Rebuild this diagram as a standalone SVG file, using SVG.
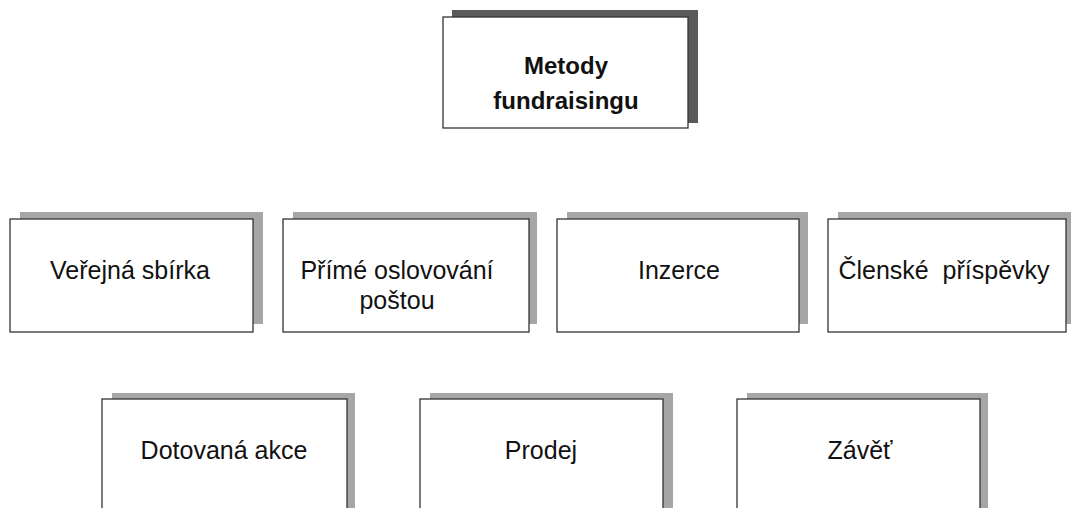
<svg xmlns="http://www.w3.org/2000/svg" width="1072" height="508" viewBox="0 0 1072 508">
  <style>
    .shadow { fill: #a6a6a6; }
    .shadow-dark { fill: #5a5a5a; }
    .box { fill: #ffffff; stroke: #333333; stroke-width: 1.3; }
    .lbl { font-family: "Liberation Sans", Arial, sans-serif; font-size: 25px; fill: #111111; text-anchor: middle; }
    .title { font-family: "Liberation Sans", Arial, sans-serif; font-size: 24px; font-weight: bold; fill: #111111; text-anchor: middle; }
  </style>
  <rect width="1072" height="508" fill="#ffffff"/>
  <g id="connectors"></g>
  <g id="node-metody">
    <rect class="shadow-dark" x="452" y="10" width="246" height="113"/>
    <rect class="box" x="443" y="17" width="245" height="111"/>
    <text class="title" x="566" y="74">Metody</text>
    <text class="title" x="566" y="109">fundraisingu</text>
  </g>
  <g id="node-verejna">
    <rect class="shadow" x="20" y="212" width="243" height="112"/>
    <rect class="box" x="10" y="219" width="243" height="113"/>
    <text class="lbl" x="130" y="279">Veřejná sbírka</text>
  </g>
  <g id="node-prime">
    <rect class="shadow" x="293" y="212" width="244" height="112"/>
    <rect class="box" x="283" y="219" width="246" height="113"/>
    <text class="lbl" x="397" y="279">Přímé oslovování</text>
    <text class="lbl" x="397" y="309">poštou</text>
  </g>
  <g id="node-inzerce">
    <rect class="shadow" x="567" y="212" width="241" height="112"/>
    <rect class="box" x="557" y="219" width="242" height="113"/>
    <text class="lbl" x="679" y="279">Inzerce</text>
  </g>
  <g id="node-clenske">
    <rect class="shadow" x="838" y="212" width="233" height="112"/>
    <rect class="box" x="828" y="219" width="238" height="113"/>
    <text class="lbl" x="944" y="279" xml:space="preserve">Členské  příspěvky</text>
  </g>
  <g id="node-dotovana">
    <rect class="shadow" x="112" y="393" width="243" height="130"/>
    <rect class="box" x="102" y="399" width="245" height="130"/>
    <text class="lbl" x="224" y="459">Dotovaná akce</text>
  </g>
  <g id="node-prodej">
    <rect class="shadow" x="430" y="393" width="243" height="130"/>
    <rect class="box" x="420" y="399" width="243" height="130"/>
    <text class="lbl" x="541" y="459">Prodej</text>
  </g>
  <g id="node-zavet">
    <rect class="shadow" x="747" y="393" width="241" height="130"/>
    <rect class="box" x="737" y="399" width="243" height="130"/>
    <text class="lbl" x="860" y="459">Závěť</text>
  </g>
</svg>
